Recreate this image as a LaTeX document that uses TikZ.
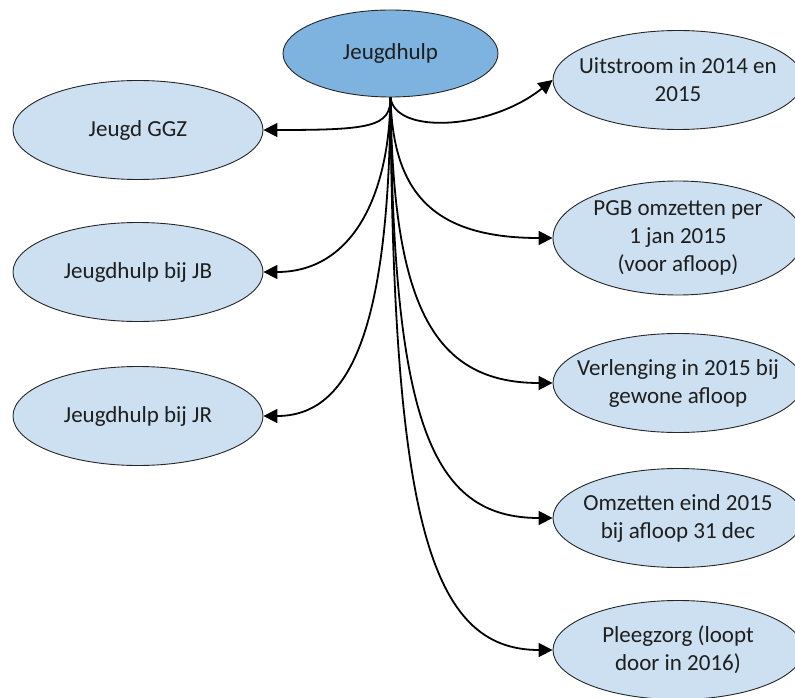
\documentclass[tikz,border=0pt]{standalone}
\usepackage{fontspec}
\setmainfont{Carlito}
\usetikzlibrary{shapes.geometric,arrows.meta}
\definecolor{topfill}{RGB}{125,179,222}
\definecolor{leaf}{RGB}{204,224,242}
\definecolor{txt}{RGB}{30,30,30}
\tikzset{
  bub/.style={ellipse,draw=black!85,line width=0.9pt,fill=leaf,inner sep=0pt,minimum width=250pt,minimum height=99pt},
  topbub/.style={ellipse,draw=black!85,line width=0.9pt,fill=topfill,inner sep=0pt,minimum width=215pt,minimum height=87pt},
  lbl/.style={align=center,text=txt,font=\fontsize{23pt}{28pt}\selectfont,inner sep=0pt},
  conn/.style={line width=1.8pt,-{Triangle[length=14pt,width=14pt]}}
}
\begin{document}
\begin{tikzpicture}[x=1pt,y=-1pt]
\useasboundingbox (0,0) rectangle (795,698);
% nodes
\node[topbub] (top) at (390.5,53.5) {};
\node[lbl] at (top.center) {Jeugdhulp};
\node[bub] (ggz) at (138,130) {};
\node[lbl] at (ggz.center) {Jeugd GGZ};
\node[bub] (jb) at (138,272) {};
\node[lbl] at (jb.center) {Jeugdhulp bij JB};
\node[bub] (jr) at (138,416) {};
\node[lbl] at (jr.center) {Jeugdhulp bij JR};
\node[bub] (uit) at (678,80) {};
\node[lbl] at (uit.center) {Uitstroom in 2014 en\\2015};
\node[bub,minimum height=114pt] (pgb) at (678,238) {};
\node[lbl] at (pgb.center) {PGB omzetten per\\1 jan 2015\\(voor afloop)};
\node[bub] (ver) at (678,383) {};
\node[lbl] at (ver.center) {Verlenging in 2015 bij\\gewone afloop};
\node[bub] (omz) at (678,518) {};
\node[lbl] at (omz.center) {Omzetten eind 2015\\bij afloop 31 dec};
\node[bub] (ple) at (678,650) {};
\node[lbl] at (ple.center) {Pleegzorg (loopt\\door in 2016)};
% connectors
\draw[conn] (top.south) .. controls (391,127) and (370,130) .. (ggz.east);
\draw[conn] (top.south) .. controls (389,200) and (350,272) .. (jb.east);
\draw[conn] (top.south) .. controls (389,330) and (350,416) .. (jr.east);
\draw[conn] (top.south) .. controls (395,135) and (490,130) .. (uit.west);
\draw[conn] (top.south) .. controls (393,190) and (430,238) .. (pgb.west);
\draw[conn] (top.south) .. controls (393,300) and (430,383) .. (ver.west);
\draw[conn] (top.south) .. controls (393,420) and (430,518) .. (omz.west);
\draw[conn] (top.south) .. controls (393,520) and (430,650) .. (ple.west);
\end{tikzpicture}
\end{document}
